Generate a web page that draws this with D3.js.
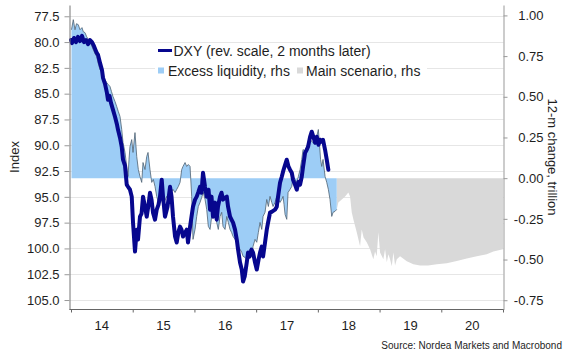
<!DOCTYPE html>
<html>
<head>
<meta charset="utf-8">
<script src="https://cdn.jsdelivr.net/npm/d3@7"></script>
<style>
  html, body { margin: 0; padding: 0; background: #fff; }
  svg { display: block; font-family: "Liberation Sans", Arial, sans-serif; }
</style>
</head>
<body>
<svg id="chart" width="570" height="360"></svg>
<script>
// ---------------- DATA ----------------
const xTickYears = [2014, 2015, 2016, 2017, 2018, 2019, 2020, 2021];
const xTickLabels = ["14", "15", "16", "17", "18", "19", "20"];
const yLeftTicks = [77.5, 80, 82.5, 85, 87.5, 90, 92.5, 95, 97.5, 100, 102.5, 105];
const yRightTicks = [1, 0.75, 0.5, 0.25, 0, -0.25, -0.5, -0.75];

// DXY (reversed scale, 2 months later) — time in decimal years
const dxyTime = [2014.0, 2014.016, 2014.049, 2014.081, 2014.113, 2014.146, 2014.178, 2014.211, 2014.243, 2014.276,
  2014.308, 2014.340, 2014.373, 2014.417, 2014.438, 2014.470, 2014.502, 2014.519, 2014.551, 2014.579,
  2014.600, 2014.624, 2014.648, 2014.681, 2014.713, 2014.746, 2014.762, 2014.794, 2014.822, 2014.843,
  2014.875, 2014.903, 2014.924, 2014.956, 2014.984, 2015.005, 2015.037, 2015.065, 2015.086, 2015.118,
  2015.143, 2015.167, 2015.199, 2015.227, 2015.256, 2015.280, 2015.305, 2015.329, 2015.361, 2015.389,
  2015.418, 2015.442, 2015.470, 2015.491, 2015.523, 2015.564, 2015.605, 2015.629, 2015.653, 2015.686,
  2015.713, 2015.742, 2015.767, 2015.791, 2015.815, 2015.848, 2015.875, 2015.896, 2015.929, 2015.953,
  2015.977, 2016.010, 2016.037, 2016.066, 2016.091, 2016.115, 2016.139, 2016.172, 2016.199, 2016.229,
  2016.253, 2016.277, 2016.301, 2016.334, 2016.361, 2016.382, 2016.415, 2016.439, 2016.463, 2016.496,
  2016.524, 2016.545, 2016.577, 2016.601, 2016.626, 2016.658, 2016.686, 2016.707, 2016.739, 2016.767,
  2016.788, 2016.815, 2016.848, 2016.869, 2016.893, 2016.926, 2016.950, 2016.982, 2017.010, 2017.039,
  2017.063, 2017.091, 2017.112, 2017.144, 2017.172, 2017.193, 2017.225, 2017.258, 2017.306, 2017.334,
  2017.355, 2017.387, 2017.415, 2017.436, 2017.469, 2017.496, 2017.525, 2017.549, 2017.577, 2017.598,
  2017.630, 2017.658, 2017.687, 2017.712, 2017.739, 2017.760, 2017.793, 2017.820, 2017.841, 2017.874,
  2017.901, 2017.922, 2017.955, 2017.982, 2018.011, 2018.036, 2018.060, 2018.084, 2018.117, 2018.144,
  2018.170];
const dxyValue = [79.8, 80.1, 79.6, 80.0, 79.5, 79.9, 79.4, 80.0, 79.8, 80.2,
  79.8, 80.0, 80.4, 81.05, 81.24, 82.02, 82.7, 83.47, 84.05, 84.82,
  85.6, 85.21, 85.89, 86.57, 87.24, 88.02, 88.5, 89.27, 90.15, 91.4,
  91.98, 93.82, 94.02, 94.31, 94.98, 97.5, 100.3, 98.18, 99.14, 96.92,
  96.63, 94.98, 95.95, 96.92, 95.76, 94.6, 95.27, 96.53, 97.21, 96.24,
  95.76, 94.98, 93.34, 94.98, 96.92, 95.95, 94.02, 94.98, 96.92, 98.85,
  99.43, 98.37, 97.89, 98.18, 98.85, 98.47, 98.18, 99.43, 97.89, 96.92,
  95.95, 95.27, 94.98, 94.5, 94.02, 94.6, 92.66, 94.02, 94.98, 94.31,
  96.24, 94.98, 96.92, 95.56, 97.21, 95.95, 94.98, 94.6, 95.27, 95.08,
  94.98, 95.95, 96.92, 97.21, 97.5, 98.18, 99.14, 100.11, 101.37, 102.05,
  103.21, 102.72, 101.37, 100.4, 100.79, 100.11, 100.4, 101.37, 102.05, 101.08,
  100.4, 99.82, 100.79, 99.43, 98.18, 97.5, 96.53, 96.43, 96.24, 95.95,
  94.98, 93.63, 93.05, 92.56, 91.89, 91.4, 92.08, 92.37, 92.66, 93.34,
  93.82, 94.31, 93.53, 93.82, 93.05, 92.08, 90.73, 90.44, 90.15, 89.18,
  88.69, 89.08, 89.76, 89.18, 89.95, 89.47, 89.66, 89.47, 90.44, 91.4,
  92.37];

// Excess liquidity, 12-m change, trillion (rhs)
const liqTime = [2014.008, 2014.037, 2014.065, 2014.089, 2014.118, 2014.146, 2014.178, 2014.199, 2014.227, 2014.254,
  2014.284, 2014.308, 2014.335, 2014.361, 2014.389, 2014.417, 2014.442, 2014.470, 2014.494, 2014.519,
  2014.548, 2014.579, 2014.605, 2014.632, 2014.656, 2014.681, 2014.713, 2014.741, 2014.767, 2014.794,
  2014.822, 2014.843, 2014.875, 2014.903, 2014.924, 2014.940, 2014.956, 2014.984, 2015.005, 2015.037,
  2015.065, 2015.091, 2015.118, 2015.146, 2015.167, 2015.199, 2015.227, 2015.248, 2015.280, 2015.308,
  2015.334, 2015.361, 2015.389, 2015.415, 2015.442, 2015.470, 2015.491, 2015.523, 2015.551, 2015.577,
  2015.605, 2015.632, 2015.653, 2015.686, 2015.713, 2015.739, 2015.767, 2015.794, 2015.815, 2015.848,
  2015.875, 2015.901, 2015.929, 2015.956, 2015.977, 2016.010, 2016.037, 2016.063, 2016.091, 2016.118,
  2016.144, 2016.172, 2016.199, 2016.225, 2016.253, 2016.280, 2016.301, 2016.334, 2016.361, 2016.387,
  2016.415, 2016.442, 2016.463, 2016.496, 2016.524, 2016.549, 2016.577, 2016.601, 2016.626, 2016.658,
  2016.686, 2016.711, 2016.739, 2016.767, 2016.788, 2016.820, 2016.848, 2016.874, 2016.901, 2016.929,
  2016.950, 2016.982, 2017.010, 2017.036, 2017.063, 2017.091, 2017.112, 2017.144, 2017.172, 2017.198,
  2017.225, 2017.253, 2017.274, 2017.306, 2017.334, 2017.360, 2017.387, 2017.415, 2017.436, 2017.452,
  2017.469, 2017.496, 2017.517, 2017.549, 2017.577, 2017.598, 2017.630, 2017.658, 2017.684, 2017.712,
  2017.739, 2017.760, 2017.793, 2017.820, 2017.846, 2017.874, 2017.901, 2017.922, 2017.955, 2017.982,
  2018.008, 2018.027, 2018.044, 2018.063, 2018.084, 2018.117, 2018.144, 2018.170, 2018.197, 2018.225,
  2018.246, 2018.278, 2018.306];
const liqValue = [0.912, 0.974, 0.912, 0.949, 0.943, 0.912, 0.925, 0.900, 0.894, 0.869,
  0.851, 0.833, 0.814, 0.790, 0.765, 0.747, 0.704, 0.667, 0.655, 0.636,
  0.606, 0.587, 0.575, 0.563, 0.532, 0.501, 0.471, 0.440, 0.409, 0.379,
  0.299, 0.219, 0.158, 0.072, 0.010, 0.115, 0.194, 0.237, 0.158, 0.280,
  0.133, 0.053, 0.010, -0.026, 0.096, 0.053, 0.133, 0.158, 0.053, -0.026,
  -0.008, -0.051, -0.112, -0.149, -0.112, -0.131, -0.174, -0.137, -0.112, -0.131,
  -0.100, -0.082, -0.069, -0.088, -0.069, -0.051, -0.026, 0.053, 0.072, 0.096,
  0.072, 0.084, 0.072, -0.112, -0.376, -0.315, -0.235, -0.174, -0.149, -0.118,
  -0.088, -0.131, -0.192, -0.296, -0.315, -0.235, -0.174, -0.192, -0.272, -0.315,
  -0.235, -0.210, -0.296, -0.315, -0.235, -0.272, -0.315, -0.333, -0.358, -0.376,
  -0.394, -0.419, -0.437, -0.456, -0.480, -0.487, -0.499, -0.468, -0.437, -0.480,
  -0.419, -0.376, -0.394, -0.333, -0.272, -0.315, -0.235, -0.210, -0.131, -0.174,
  -0.112, -0.149, -0.174, -0.149, -0.112, -0.131, -0.149, -0.131, -0.112, -0.161,
  -0.223, -0.253, -0.088, -0.069, -0.051, 0.010, -0.008, -0.026, 0.010, 0.053,
  0.115, 0.176, 0.164, 0.194, 0.219, 0.237, 0.225, 0.219, 0.207, 0.256,
  0.299, 0.207, 0.115, 0.072, 0.115, 0.010, -0.026, -0.069, -0.131, -0.235,
  -0.210, -0.204, -0.192];

// Main scenario (rhs)
const scenTime = [2018.306, 2018.332, 2018.387, 2018.441, 2018.494, 2018.522, 2018.549, 2018.575, 2018.630, 2018.684,
  2018.711, 2018.741, 2018.792, 2018.846, 2018.899, 2018.927, 2018.954, 2018.980, 2019.008, 2019.061,
  2019.089, 2019.117, 2019.143, 2019.170, 2019.198, 2019.224, 2019.251, 2019.279, 2019.332, 2019.441,
  2019.548, 2019.656, 2019.786, 2019.927, 2020.089, 2020.251, 2020.413, 2020.575, 2020.737, 2020.844,
  2021.0];
const scenValue = [-0.192, -0.149, -0.131, -0.112, -0.088, -0.112, -0.210, -0.253, -0.333, -0.419,
  -0.315, -0.364, -0.394, -0.437, -0.499, -0.450, -0.480, -0.333, -0.456, -0.499,
  -0.437, -0.517, -0.468, -0.499, -0.542, -0.456, -0.536, -0.499, -0.480, -0.511,
  -0.529, -0.536, -0.536, -0.529, -0.523, -0.509, -0.493, -0.480, -0.468, -0.450,
  -0.437];

// ---------------- CHART ----------------
const svg = d3.select("#chart");
const textColor = "#1e1e1e";
const plot = { left: 69.5, right: 503.5, top: 5, bottom: 309.5 };

const x = d3.scaleLinear().domain([2014, 2021]).range([71, 503]);
const yL = d3.scaleLinear().domain([76.407, 105.919]).range([plot.top, plot.bottom]);
const yR = d3.scaleLinear().domain([1.064, -0.807]).range([plot.top, plot.bottom]);

const zip = (t, v) => t.slice(0, Math.min(t.length, v.length)).map((d, i) => ({ t: d, v: v[i] }));
const dxy = zip(dxyTime, dxyValue);
const liq = zip(liqTime, liqValue);
const scen = zip(scenTime, scenValue);

// gridlines
svg.append("g").selectAll("line").data(yLeftTicks).join("line")
  .attr("x1", plot.left).attr("x2", plot.right)
  .attr("y1", d => Math.round(yL(d)) + 0.5).attr("y2", d => Math.round(yL(d)) + 0.5)
  .attr("stroke", "#e6e6e6").attr("stroke-width", 1);

// areas
const area = d3.area().x(d => x(d.t)).y0(yR(0)).y1(d => yR(d.v));
svg.append("path").datum(scen).attr("d", area).attr("fill", "#d9d9d9");
svg.append("path").datum(liq).attr("d", area).attr("fill", "#9dcdf6");
svg.append("path").datum(liq)
  .attr("d", d3.line().x(d => x(d.t)).y(d => yR(d.v)))
  .attr("fill", "none").attr("stroke", "#4f6272").attr("stroke-width", 0.8);

// DXY line
svg.append("path").datum(dxy)
  .attr("d", d3.line().x(d => x(d.t)).y(d => yL(d.v)))
  .attr("fill", "none").attr("stroke", "#07078e").attr("stroke-width", 4)
  .attr("stroke-linejoin", "round").attr("stroke-linecap", "round");

// left axis
const gL = svg.append("g").attr("transform", `translate(${plot.left},0)`)
  .call(d3.axisLeft(yL).tickValues(yLeftTicks).tickFormat(d3.format(".1f")).tickSize(5).tickSizeOuter(0).tickPadding(5));
gL.select(".domain").attr("stroke", "#777");
gL.selectAll(".tick line").attr("stroke", "#999");
gL.selectAll(".tick text").attr("font-size", 13).attr("fill", textColor)
  .attr("font-family", "'Liberation Sans', Arial, sans-serif");

// right axis
const fmtR = d => d3.format(".2f")(d).replace("\u2212", "-");
const gR = svg.append("g").attr("transform", `translate(${plot.right},0)`)
  .call(d3.axisRight(yR).tickValues(yRightTicks).tickFormat(fmtR).tickSize(4).tickSizeOuter(0));
gR.select(".domain").attr("stroke", "#999");
gR.selectAll(".tick line").attr("stroke", "#999");
gR.selectAll(".tick text").attr("font-size", 13).attr("fill", textColor)
  .attr("text-anchor", "end").attr("x", 40)
  .attr("font-family", "'Liberation Sans', Arial, sans-serif");

// bottom axis
const gB = svg.append("g").attr("transform", `translate(0,${plot.bottom})`)
  .call(d3.axisBottom(x).tickValues(xTickYears).tickFormat("").tickSize(3).tickSizeOuter(0));
gB.select(".domain").remove();
gB.selectAll(".tick line").attr("stroke", "#666");
gB.append("line").attr("x1", plot.left).attr("x2", plot.right).attr("y1", 0).attr("y2", 0)
  .attr("stroke", "#666");
svg.append("g").selectAll("text").data(xTickLabels).join("text")
  .attr("x", (d, i) => x(xTickYears[i] + 0.5))
  .attr("y", 330)
  .attr("text-anchor", "middle").attr("font-size", 13).attr("fill", textColor)
  .text(d => d);

// axis titles
svg.append("text").attr("transform", "translate(14,157) rotate(-90)")
  .attr("text-anchor", "middle").attr("dominant-baseline", "central")
  .attr("font-size", 13).attr("fill", textColor).text("Index");
svg.append("text").attr("transform", "translate(552,157) rotate(90)")
  .attr("text-anchor", "middle").attr("dominant-baseline", "central")
  .attr("font-size", 13).attr("fill", textColor).text("12-m change, trillion");

// legend
const lg = svg.append("g");
lg.append("rect").attr("x", 155).attr("y", 44).attr("width", 272).attr("height", 36).attr("fill", "#fff");
lg.append("line").attr("x1", 158).attr("x2", 172).attr("y1", 50.5).attr("y2", 50.5)
  .attr("stroke", "#07078e").attr("stroke-width", 3);
lg.append("text").attr("x", 173.5).attr("y", 56).attr("font-size", 14).attr("fill", textColor)
  .text("DXY (rev. scale, 2 months later)");
lg.append("rect").attr("x", 158).attr("y", 67.5).attr("width", 6).attr("height", 6).attr("fill", "#9dcdf6");
lg.append("text").attr("x", 168).attr("y", 76).attr("font-size", 14).attr("fill", textColor)
  .text("Excess liquidity, rhs");
lg.append("rect").attr("x", 297).attr("y", 67.5).attr("width", 6).attr("height", 6).attr("fill", "#d9d9d9");
lg.append("text").attr("x", 306).attr("y", 76).attr("font-size", 14).attr("fill", textColor)
  .text("Main scenario, rhs");

// source
svg.append("text").attr("x", 562).attr("y", 348.5).attr("text-anchor", "end")
  .attr("font-size", 10).attr("fill", textColor)
  .text("Source: Nordea Markets and Macrobond");
</script>
</body>
</html>
